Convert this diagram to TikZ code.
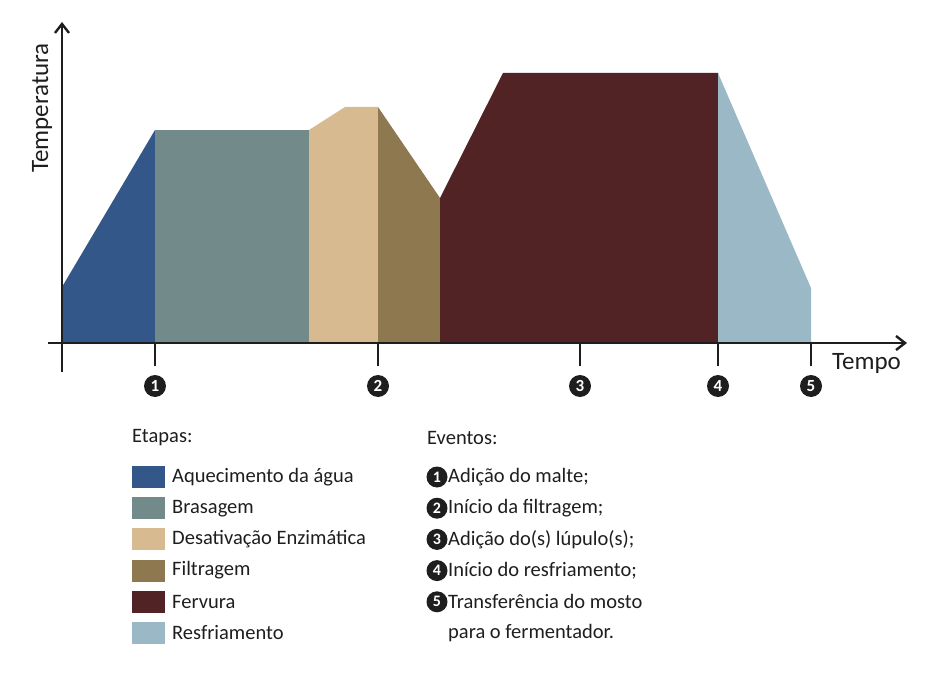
\documentclass[tikz,border=0pt]{standalone}
\usepackage{fontspec}
\setmainfont{Carlito}
\usetikzlibrary{arrows.meta}
\definecolor{cAq}{HTML}{34578A}
\definecolor{cBr}{HTML}{728A8A}
\definecolor{cDe}{HTML}{D7BA8F}
\definecolor{cFi}{HTML}{8D784F}
\definecolor{cFe}{HTML}{522324}
\definecolor{cRe}{HTML}{9AB8C5}
\definecolor{ink}{HTML}{1E1E1E}
\tikzset{
  axis/.style={line width=2.8pt, draw=ink, -{Straight Barb[length=9pt,width=14pt,line width=2.4pt]}},
  tickline/.style={line width=2.8pt, draw=ink},
  evnum/.style={circle, fill=ink, text=white, inner sep=0pt, minimum size=22pt, font=\fontsize{17}{17}\selectfont\bfseries},
  evnumsm/.style={circle, fill=ink, text=white, inner sep=0pt, minimum size=21pt, font=\fontsize{16}{16}\selectfont\bfseries},
  axlabel/.style={text=ink, font=\fontsize{25}{25}\selectfont, inner sep=0pt},
  legtext/.style={text=ink, font=\fontsize{20.5}{20.5}\selectfont, anchor=west, inner sep=0pt},
  swatch/.style={minimum width=33pt, minimum height=22pt, inner sep=0pt, anchor=west}
}
\begin{document}
\begin{tikzpicture}[x=1pt,y=-1pt]
\useasboundingbox (0,0) rectangle (938,677);
% stages
\fill[cAq] (62,343) -- (62,287) -- (155,130) -- (155,343) -- cycle;
\fill[cBr] (155,343) -- (155,130) -- (309,130) -- (309,343) -- cycle;
\fill[cDe] (309,343) -- (309,130) -- (345,107) -- (378,107) -- (378,343) -- cycle;
\fill[cFi] (378,343) -- (378,107) -- (440,198) -- (440,343) -- cycle;
\fill[cFe] (440,343) -- (440,198) -- (503,73) -- (718,73) -- (718,343) -- cycle;
\fill[cRe] (718,343) -- (718,73) -- (811,288) -- (811,343) -- cycle;
% axes
\coordinate (yb) at (62,372);
\coordinate (yt) at (62,22);
\coordinate (xl) at (48,343);
\coordinate (xr) at (907,343);
\draw[axis] (yb) -- (yt);
\draw[axis] (xl) -- (xr);
\node[axlabel, rotate=90] (temp) at (42,108) {Temperatura};
\node[axlabel, anchor=west] (tempo) at (832,363) {Tempo};
% ticks and events
\foreach \x/\n in {155/1,378/2,580/3,718/4,811/5}{
  \coordinate (t\n a) at (\x,343);
  \coordinate (t\n b) at (\x,366);
  \draw[tickline] (t\n a) -- (t\n b);
  \node[evnum] (e\n) at (\x,386) {\n};
}
% legend: stages
\node[legtext] (etapas) at (132,438) {Etapas:};
\foreach \c/\t [count=\i] in {cAq/Aquecimento da água, cBr/Brasagem, cDe/Desativação Enzimática, cFi/Filtragem, cFe/Fervura, cRe/Resfriamento}{
  \node[swatch, fill=\c] (s\i) at (132,{477+31.2*(\i-1)}) {};
  \node[legtext] (l\i) at (172,{477+31.2*(\i-1)}) {\t};
}
% legend: events
\node[legtext] (eventos) at (427,438) {Eventos:};
\foreach \t [count=\i] in {Adição do malte;, Início da filtragem;, Adição do(s) lúpulo(s);, Início do resfriamento;, Transferência do mosto}{
  \node[evnumsm] (c\i) at (437,{477+31.2*(\i-1)}) {\i};
  \node[legtext] (m\i) at (448,{477+31.2*(\i-1)}) {\t};
}
\node[legtext] (m6) at (448,{477+31.2*5}) {para o fermentador.};
\end{tikzpicture}
\end{document}
